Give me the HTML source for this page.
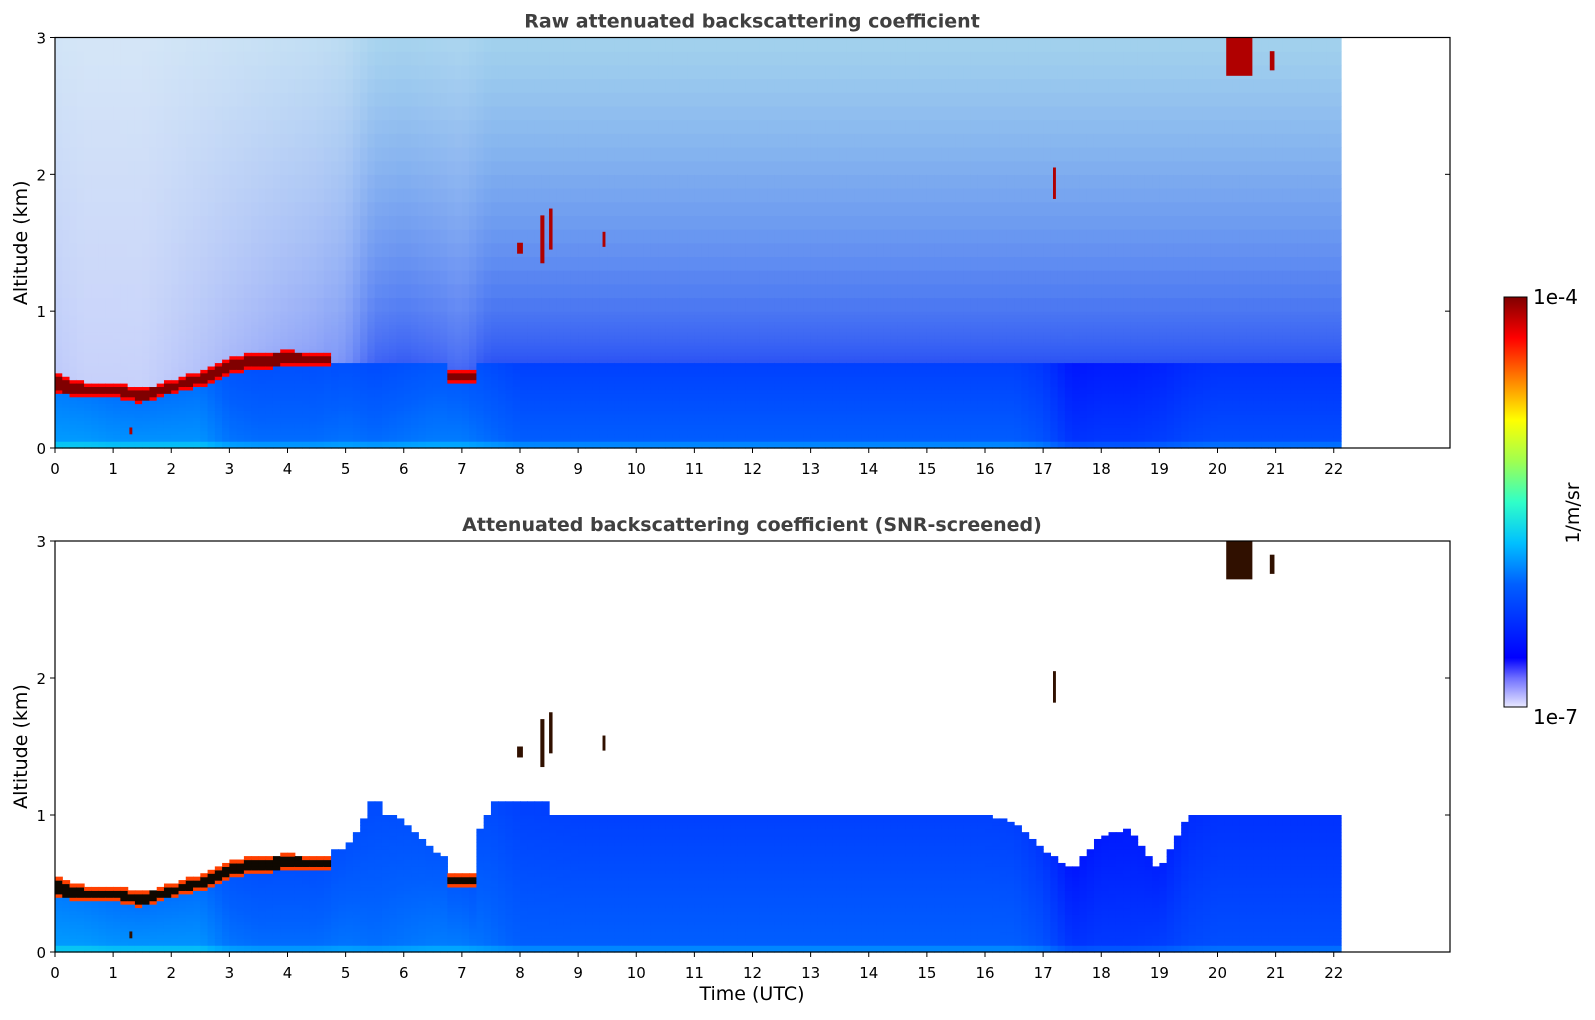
<!DOCTYPE html>
<html><head><meta charset="utf-8"><style>
body{margin:0;background:#fff;}
svg{display:block;font-family:"DejaVu Sans","Liberation Sans",sans-serif;}
</style></head><body>
<svg id="fig" width="1595" height="1020" viewBox="0 0 1595 1020" xmlns="http://www.w3.org/2000/svg">
<defs>
<linearGradient id="cbg" x1="0" y1="1" x2="0" y2="0">
<stop offset="0" stop-color="#e8e8ff"/><stop offset="0.07" stop-color="#7070ff"/><stop offset="0.12" stop-color="#0000ff"/>
<stop offset="0.3" stop-color="#0060ff"/><stop offset="0.4" stop-color="#00c0ff"/><stop offset="0.5" stop-color="#30ffc8"/>
<stop offset="0.6" stop-color="#a0ff50"/><stop offset="0.7" stop-color="#ffff00"/><stop offset="0.8" stop-color="#ff8000"/>
<stop offset="0.9" stop-color="#ff0000"/><stop offset="1" stop-color="#800000"/>
</linearGradient>
</defs>
<g id="p1"></g>
<g id="p2"></g>
<rect x="1504" y="297" width="23" height="410" fill="url(#cbg)" stroke="#000" stroke-width="1"/>
<text x="1533" y="304" font-size="20">1e-4</text>
<text x="1533" y="724" font-size="20">1e-7</text>
<text transform="translate(1579,513) rotate(-90)" text-anchor="middle" font-size="19">1/m/sr</text>
<text x="752" y="1000" text-anchor="middle" font-size="19">Time (UTC)</text>
</svg>
<script>
// data (half-hour nodes, km)
const times =      [0,0.5,1,1.5,2,2.5,3,3.5,4,4.5,5,5.5,6,6.5,7,7.5,8,8.5,9,9.5,10,10.5,11,11.5,12,12.5,13,13.5,14,14.5,15,15.5,16,16.5,17,17.5,18,18.5,19,19.5,20,20.5,21,21.5,22];
const screenTop =  [0.62,0.55,0.55,0.5,0.55,0.6,0.75,0.78,0.8,0.78,0.75,1.1,0.95,0.75,0.65,1.05,1.1,1.05,1.0,1.0,1.0,1.0,1.0,1.0,1.0,1.0,1.0,1.0,1.0,1.0,1.0,1.0,1.0,0.95,0.75,0.6,0.85,0.9,0.6,1.0,1.05,1.05,1.05,1.05,1.05];
const cloudBase =  [0.4,0.37,0.38,0.33,0.4,0.45,0.55,0.58,0.6,0.6,0,0,0,0,0.47,0,0,0,0,0,0,0,0,0,0,0,0,0,0,0,0,0,0,0,0,0,0,0,0,0,0,0,0,0,0];
const cloudTop =   [0.55,0.48,0.48,0.44,0.5,0.56,0.67,0.7,0.72,0.7,0,0,0,0,0.58,0,0,0,0,0,0,0,0,0,0,0,0,0,0,0,0,0,0,0,0,0,0,0,0,0,0,0,0,0,0];
const layerTone =  [0.38,0.38,0.37,0.37,0.37,0.37,0.33,0.32,0.32,0.32,0.33,0.32,0.33,0.34,0.34,0.32,0.3,0.3,0.3,0.3,0.3,0.3,0.3,0.3,0.3,0.3,0.3,0.3,0.3,0.3,0.3,0.3,0.3,0.3,0.28,0.22,0.23,0.23,0.24,0.26,0.27,0.27,0.27,0.27,0.27];
const upperDensity=[0.25,0.2,0.2,0.2,0.25,0.3,0.35,0.4,0.45,0.5,0.6,0.9,0.95,0.9,0.85,1,1,1,1,1,1,1,1,1,1,1,1,1,1,1,1,1,1,1,1,1,1,1,1,1,1,1,1,1,1];
// isolated cloud patches: [t0,t1,zBottom,zTop]
const cloudPatches = [[7.95,8.05,1.42,1.5],[8.35,8.42,1.35,1.7],[8.5,8.56,1.45,1.75],[9.42,9.47,1.47,1.58],[17.17,17.22,1.82,2.05],[20.15,20.6,2.72,3.0],[20.9,20.98,2.76,2.9],[1.28,1.33,0.1,0.15]];
const hourTicks = [0,1,2,3,4,5,6,7,8,9,10,11,12,13,14,15,16,17,18,19,20,21,22];
const altTicks = [0,1,2,3];
const tEnd = 22.1;

const NS="http://www.w3.org/2000/svg";
const X0=55, HW=58.125;
function X(t){return X0+t*HW;}
function interp(arr,t){const i=Math.min(Math.floor(t/0.5),times.length-2);const f=Math.max(0,Math.min(1,(t-times[i])/0.5));return arr[i]*(1-f)+arr[i+1]*f;}
function cloudAt(arr,t){const i=Math.min(Math.floor(t/0.5),times.length-2);const f=Math.max(0,Math.min(1,(t-times[i])/0.5));
  if(arr[i]>0&&arr[i+1]>0) return arr[i]*(1-f)+arr[i+1]*f; return f<0.5?arr[i]:arr[i+1];}
const stops=[[0,[255,255,255]],[0.08,[144,144,255]],[0.15,[0,16,255]],[0.3,[0,96,255]],[0.4,[0,176,255]],[0.5,[32,255,208]],[0.6,[160,255,80]],[0.7,[255,255,0]],[0.8,[255,128,0]],[0.9,[255,0,0]],[1,[128,0,0]]];
function jet(v){v=Math.max(0,Math.min(1,v));for(let i=0;i<stops.length-1;i++){if(v<=stops[i+1][0]){const f=(v-stops[i][0])/(stops[i+1][0]-stops[i][0]);return stops[i][1].map((c,k)=>Math.round(c+(stops[i+1][1][k]-c)*f));}}return stops[stops.length-1][1];}
function mix(a,b,f){return a.map((c,k)=>Math.round(c*(1-f)+b[k]*f));}
function rgb(c){return 'rgb('+c.join(',')+')';}
const zEdges=[];for(let z=0;z<1-1e-9;z+=0.025)zEdges.push(z);for(let z=1;z<=3+1e-9;z+=0.1)zEdges.push(z);

function panel(gid, top, bottom, title, screened){
  const g=document.getElementById(gid);
  const kmH=(bottom-top)/3;
  const Y=z=>bottom-z*kmH;
  const dt=0.125;
  for(let t=0;t<tEnd-1e-9;t+=dt){
    const tc=t+dt/2;
    const st=interp(screenTop,tc), cb=cloudAt(cloudBase,tc), ct=cloudAt(cloudTop,tc);
    const tone=interp(layerTone,tc), dens=interp(upperDensity,tc);
    const hasCloud=cb>0;
    const layerTopZ=hasCloud?ct:(screened?st:Math.min(st,0.62));
    for(let k=0;k<zEdges.length-1;k++){
      const z=zEdges[k], z2=zEdges[k+1], zc=(z+z2)/2; let col;
      if(hasCloud && zc>=cb && zc<=ct){
        const edge=Math.min(zc-cb,ct-zc);
        if(screened) col=edge<0.02?jet(0.85):[15,8,0];
        else col=jet(edge<0.02?0.9:1.0);
      } else if(zc<layerTopZ){
        let v=tone-0.06*(zc/layerTopZ);
        if(zc<0.05) v+=0.05;
        col=jet(v);
      } else {
        if(screened){ continue; }
        const f=Math.min(1,(zc-layerTopZ)/(3-layerTopZ));
        let base=mix([40,80,245],[150,205,235],Math.pow(f,0.7));
        const d=dens*(1-0.3*f)+0.15*f;
        col=mix([238,240,252],base,Math.min(1,d));
      }
      const r=document.createElementNS(NS,'rect');
      
      
      r.setAttribute('x',X(t).toFixed(2));
      r.setAttribute('y',Y(z2).toFixed(2));
      r.setAttribute('width',(dt*HW+0.6).toFixed(2));
      r.setAttribute('height',((z2-z)*kmH+0.6).toFixed(2));
      r.setAttribute('fill',rgb(col));
      g.appendChild(r);
    }
  }
  cloudPatches.forEach(p=>{
    const r=document.createElementNS(NS,'rect');
    
    
    r.setAttribute('x',X(p[0]));r.setAttribute('y',Y(p[3]));
    r.setAttribute('width',(p[1]-p[0])*HW);r.setAttribute('height',(p[3]-p[2])*kmH);
    r.setAttribute('fill',screened?'#301000':'#b00000');
    g.appendChild(r);
  });
  const fr=document.createElementNS(NS,'rect');
  
  
  fr.setAttribute('x',X0);fr.setAttribute('y',top);fr.setAttribute('width',X(24)-X0);fr.setAttribute('height',bottom-top);
  fr.setAttribute('fill','none');fr.setAttribute('stroke','#000');fr.setAttribute('stroke-width','1.2');
  g.appendChild(fr);
  hourTicks.forEach(h=>{
    const l=document.createElementNS(NS,'line');
    
    
    l.setAttribute('x1',X(h));l.setAttribute('x2',X(h));l.setAttribute('y1',bottom);l.setAttribute('y2',bottom+5);l.setAttribute('stroke','#000');
    g.appendChild(l);
    const tx=document.createElementNS(NS,'text');
    
    
    tx.setAttribute('x',X(h));tx.setAttribute('y',bottom+26);tx.setAttribute('text-anchor','middle');tx.setAttribute('font-size','15');
    tx.textContent=h;g.appendChild(tx);
  });
  altTicks.forEach(a=>{
    const l=document.createElementNS(NS,'line');
    
    
    l.setAttribute('x1',X0-5);l.setAttribute('x2',X0);l.setAttribute('y1',Y(a));l.setAttribute('y2',Y(a));l.setAttribute('stroke','#000');
    g.appendChild(l);
    const l2=document.createElementNS(NS,'line');
    
    
    l2.setAttribute('x1',X(24)-5);l2.setAttribute('x2',X(24));l2.setAttribute('y1',Y(a));l2.setAttribute('y2',Y(a));l2.setAttribute('stroke','#000');
    g.appendChild(l2);
    const tx=document.createElementNS(NS,'text');
    
    
    tx.setAttribute('x',X0-9);tx.setAttribute('y',Y(a)+6);tx.setAttribute('text-anchor','end');tx.setAttribute('font-size','15');
    tx.textContent=a;g.appendChild(tx);
  });
  const tt=document.createElementNS(NS,'text');
  
  
  tt.setAttribute('x',752);tt.setAttribute('y',top-10);tt.setAttribute('text-anchor','middle');tt.setAttribute('font-size','19');tt.setAttribute('font-weight','bold');tt.setAttribute('fill','#404040');
  tt.textContent=title;g.appendChild(tt);
  const yl=document.createElementNS(NS,'text');
  
  
  yl.setAttribute('transform','translate(27,'+((top+bottom)/2)+') rotate(-90)');yl.setAttribute('text-anchor','middle');yl.setAttribute('font-size','19');
  yl.textContent='Altitude (km)';g.appendChild(yl);
}
panel('p1',37.5,448,'Raw attenuated backscattering coefficient',false);
panel('p2',541,952,'Attenuated backscattering coefficient (SNR-screened)',true);
</script>
</body></html>
